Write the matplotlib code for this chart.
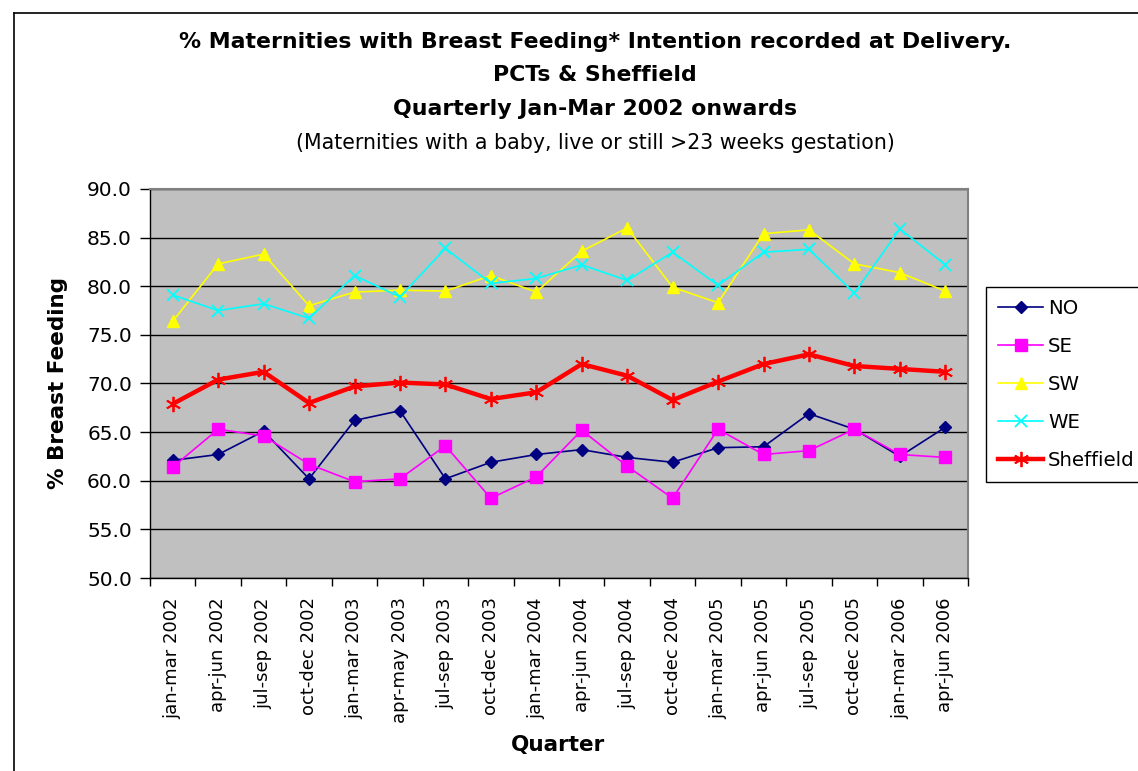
import matplotlib
matplotlib.use("Agg")
import matplotlib.pyplot as plt
from matplotlib.lines import Line2D

plt.rcParams['font.family'] = ['DejaVu Sans']

quarters = ["jan-mar 2002", "apr-jun 2002", "jul-sep 2002", "oct-dec 2002",
            "jan-mar 2003", "apr-may 2003", "jul-sep 2003", "oct-dec 2003",
            "jan-mar 2004", "apr-jun 2004", "jul-sep 2004", "oct-dec 2004",
            "jan-mar 2005", "apr-jun 2005", "jul-sep 2005", "oct-dec 2005",
            "jan-mar 2006", "apr-jun 2006"]

no_vals = [62.1, 62.7, 65.1, 60.2, 66.2, 67.2, 60.2, 61.9, 62.7,
           63.2, 62.4, 61.9, 63.4, 63.5, 66.9, 65.3, 62.5, 65.5]
se_vals = [61.4, 65.3, 64.6, 61.7, 59.9, 60.2, 63.6, 58.2, 60.4,
           65.2, 61.5, 58.2, 65.3, 62.7, 63.1, 65.3, 62.7, 62.4]
sw_vals = [76.4, 82.3, 83.3, 78.0, 79.4, 79.6, 79.5, 81.1, 79.4,
           83.6, 86.0, 79.9, 78.3, 85.4, 85.8, 82.3, 81.4, 79.5]
we_vals = [79.1, 77.5, 78.2, 76.7, 81.1, 78.9, 83.9, 80.3, 80.8,
           82.2, 80.6, 83.5, 80.1, 83.5, 83.8, 79.3, 85.9, 82.2]
sheff_vals = [67.9, 70.4, 71.2, 68.0, 69.7, 70.1, 69.9, 68.4, 69.1,
              72.0, 70.8, 68.3, 70.2, 72.0, 73.0, 71.8, 71.5, 71.2]

title_lines = ["% Maternities with Breast Feeding* Intention recorded at Delivery.",
               "PCTs & Sheffield",
               "Quarterly Jan-Mar 2002 onwards"]
subtitle = "(Maternities with a baby, live or still >23 weeks gestation)"

W, H = 1138, 771
fig = plt.figure(figsize=(W / 100, H / 100), dpi=100)
fig.patch.set_facecolor('white')

# outer chart border
fig.add_artist(Line2D([14 / W, 1.0], [1 - 13 / H, 1 - 13 / H], color='black', lw=1.2,
                      transform=fig.transFigure))
fig.add_artist(Line2D([14 / W, 14 / W], [0, 1 - 13 / H], color='black', lw=1.2,
                      transform=fig.transFigure))

ax = fig.add_axes([150 / W, 1 - 578 / H, 818 / W, 389 / H])
ax.set_facecolor('#C0C0C0')

x = list(range(len(quarters)))
ax.plot(x, no_vals, color='#000080', lw=1.2, marker='D', ms=6, label='NO', zorder=3)
ax.plot(x, se_vals, color='#FF00FF', lw=1.2, marker='s', ms=8, label='SE', zorder=3)
ax.plot(x, sw_vals, color='#FFFF00', lw=1.2, marker='^', ms=9, label='SW', zorder=3)
ax.plot(x, we_vals, color='#00FFFF', lw=1.2, marker='x', ms=9, mew=1.3, label='WE', zorder=3)
ax.plot(x, sheff_vals, color='#FF0000', lw=3.2, marker=(6, 2, 0), ms=11, mew=1.3,
        label='Sheffield', zorder=4)

ax.set_ylim(50, 90)
ax.set_xlim(-0.5, len(quarters) - 0.5)
ax.set_yticks([50 + 5 * i for i in range(9)])
ax.set_yticklabels([f"{50 + 5 * i:.1f}" for i in range(9)])
ax.yaxis.grid(True, color='black', lw=1.0)
ax.set_axisbelow(True)

ax.set_xticks([i - 0.5 for i in range(len(quarters) + 1)])
ax.set_xticklabels([])
ax.set_xticks(x, minor=True)
ax.set_xticklabels(quarters, minor=True, rotation=90, fontsize=13, va='top', ha='center')
ax.tick_params(axis='x', which='major', direction='out', length=6, width=1, color='black')
ax.tick_params(axis='x', which='minor', length=0, pad=14)
ax.tick_params(axis='y', direction='out', length=7, width=1, labelsize=14.5, pad=6)

for s in ['left', 'bottom']:
    ax.spines[s].set_color('black')
    ax.spines[s].set_linewidth(1.0)
for s in ['top', 'right']:
    ax.spines[s].set_color('#808080')
    ax.spines[s].set_linewidth(1.5)

# titles
tx = 595 / W
fig.text(tx, 1 - 42 / H, title_lines[0], ha='center', va='center', fontsize=15.8, fontweight='bold')
fig.text(tx, 1 - 75 / H, title_lines[1], ha='center', va='center', fontsize=15.8, fontweight='bold')
fig.text(tx, 1 - 109 / H, title_lines[2], ha='center', va='center', fontsize=15.8, fontweight='bold')
fig.text(tx, 1 - 143 / H, subtitle, ha='center', va='center', fontsize=14.8)

fig.text(58 / W, 1 - 383 / H, "% Breast Feeding", rotation=90, ha='center', va='center',
         fontsize=15.5, fontweight='bold')
fig.text(558 / W, 1 - 745 / H, "Quarter", ha='center', va='center', fontsize=15.5,
         fontweight='bold')

leg = fig.legend(loc='upper left', bbox_to_anchor=(986 / W, 1 - 287 / H), fontsize=14.2,
                 frameon=True, fancybox=False, edgecolor='black', framealpha=1,
                 handlelength=2.3, handletextpad=0.25, labelspacing=0.97,
                 borderpad=0.6, borderaxespad=0)
leg.get_frame().set_linewidth(1.0)

fig.savefig("out.png", dpi=100, facecolor='white')
